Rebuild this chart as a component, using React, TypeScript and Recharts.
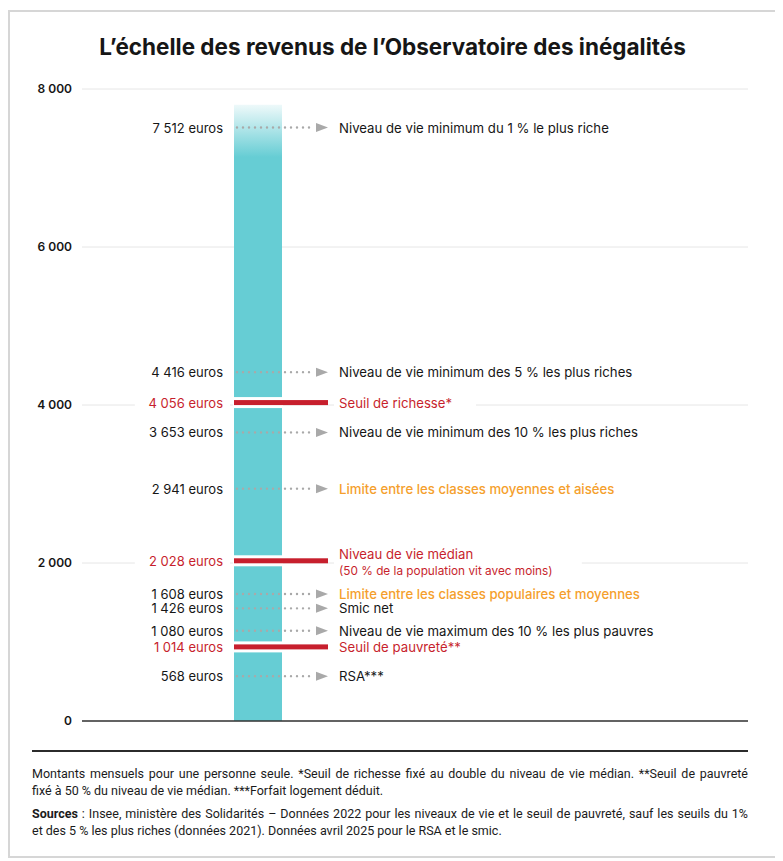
import { BarChart, Bar, XAxis, YAxis, CartesianGrid, ReferenceLine } from "recharts";

// ── data ─────────────────────────────────────────────────────────────────────

const scaleTop = 7800; // height of the teal ladder
const yTicks = [0, 2000, 4000, 6000, 8000];

const amounts = [7512, 4416, 4056, 3653, 2941, 2028, 1608, 1426, 1080, 1014, 568];
const captions = [
  "Niveau de vie minimum du 1 % le plus riche",
  "Niveau de vie minimum des 5 % les plus riches",
  "Seuil de richesse*",
  "Niveau de vie minimum des 10 % les plus riches",
  "Limite entre les classes moyennes et aisées",
  "Niveau de vie médian",
  "Limite entre les classes populaires et moyennes",
  "Smic net",
  "Niveau de vie maximum des 10 % les plus pauvres",
  "Seuil de pauvreté**",
  "RSA***",
];
const subCaptions = ["", "", "", "", "", "(50 % de la population vit avec moins)", "", "", "", "", ""];
const kinds = ["arrow", "arrow", "seuil", "arrow", "arrow", "seuil", "arrow", "arrow", "arrow", "seuil", "arrow"];
const tones = ["ink", "ink", "red", "ink", "orange", "red", "orange", "ink", "ink", "red", "ink"];

// small vertical nudges the original uses to keep close labels apart (px)
const nudges: Record<number, number> = { 4056: 2, 1080: -5, 1014: 6 };

// ── styles ───────────────────────────────────────────────────────────────────

const FONT = "Inter, 'Noto Sans', sans-serif";
const INK = "#161616";
const RED = "#c71f2d";
const ORANGE = "#f59f2d";
const TEAL = "#66cdd4";
const GREY = "#a9a9a9";
const BAR_W = 48;
const BAR_LEFT = 152; // bar left edge relative to plot left (band centre 176 - 24)

const toneColor = (t: string) => (t === "red" ? RED : t === "orange" ? ORANGE : INK);
const fmt = (v: number) => String(v).replace(/\B(?=(\d{3})+(?!\d))/g, " ");

const data = [{ name: "échelle", value: scaleTop }];

function Marker(props: any) {
  const { x1, y1, i } = props;
  if (x1 == null || y1 == null) return null;
  const y = y1 + (nudges[amounts[i]] ?? 0);
  const bx = x1 + BAR_LEFT;
  const seuil = kinds[i] === "seuil";
  const col = toneColor(tones[i]);
  const left = `${fmt(amounts[i])} euros`;
  const sub = subCaptions[i];
  const textX = bx + 105;
  const capY = sub ? y - 7 : y;
  const rightW = Math.max(captions[i].length * 7, sub.length * 6.1) + 16;
  const leftW = left.length * 7.2 + 10;

  return (
    <g>
      {seuil && (
        <>
          <rect x={bx - 10 - leftW} y={y - 9} width={leftW + 6} height={18} fill="#fff" />
          <rect x={textX - 5} y={y - 9} width={rightW} height={sub ? 30 : 18} fill="#fff" />
          <rect x={bx - 1} y={y - 5.5} width={BAR_W + 2} height={11} fill="#fff" />
          <rect x={bx} y={y - 2.5} width={94} height={5} fill={RED} />
        </>
      )}
      {!seuil && (
        <>
          <line
            x1={bx + 3}
            x2={bx + 81}
            y1={y}
            y2={y}
            stroke={GREY}
            strokeWidth={2.4}
            strokeLinecap="round"
            strokeDasharray="0 6"
          />
          <path d={`M${bx + 82},${y - 4.5} L${bx + 94},${y} L${bx + 82},${y + 4.5} Z`} fill={GREY} />
        </>
      )}
      <text
        x={bx - 11}
        y={y}
        textAnchor="end"
        dominantBaseline="central"
        fontFamily={FONT}
        fontSize={13}
        fill={seuil ? RED : INK}
      >
        {left}
      </text>
      <text
        x={textX}
        y={capY}
        dominantBaseline="central"
        fontFamily={FONT}
        fontSize={13.2}
        fontWeight={tones[i] === "orange" ? 500 : 400}
        fill={col}
      >
        {captions[i]}
      </text>
      {sub && (
        <text x={textX} y={y + 10} dominantBaseline="central" fontFamily={FONT} fontSize={11.8} fill={col}>
          {sub}
        </text>
      )}
    </g>
  );
}

export default function App() {
  return (
    <div style={{ paddingTop: 2 }}>
      <div
        style={{
          position: "relative",
          width: 765,
          height: 844,
          border: "2px solid #d6d6d6",
          fontFamily: FONT,
          color: INK,
          background: "#fff",
        }}
      >
        <div
          style={{
            position: "absolute",
            top: 21,
            left: 0,
            width: 765,
            textAlign: "center",
            fontSize: 22.5,
            fontWeight: 700,
            lineHeight: "27px",
          }}
        >
          L’échelle des revenus de l’Observatoire des inégalités
        </div>

        <div style={{ position: "absolute", top: 0, left: 0 }}>
          <BarChart width={765} height={720} data={data} margin={{ top: 77, right: 27, bottom: 11, left: 0 }}>
            <defs>
              <linearGradient id="ladder" x1="0" y1="0" x2="0" y2="1">
                <stop offset="0" stopColor="#eef9fa" />
                <stop offset="0.085" stopColor={TEAL} />
                <stop offset="1" stopColor={TEAL} />
              </linearGradient>
            </defs>
            <CartesianGrid vertical={false} stroke="#e6e6e6" strokeWidth={1} />
            <XAxis dataKey="name" hide padding={{ left: 0, right: 314 }} />
            <YAxis
              width={72}
              domain={[0, 8000]}
              ticks={yTicks}
              tickFormatter={fmt}
              tickLine={false}
              axisLine={false}
              tickMargin={4}
              tick={{ fontSize: 12, fill: INK, fontFamily: FONT, fontWeight: 600 }}
            />
            <Bar dataKey="value" fill="url(#ladder)" barSize={BAR_W} isAnimationActive={false} />
            <ReferenceLine y={0} stroke="#333" strokeWidth={1.5} />
            {amounts.map((a, i) => (
              <ReferenceLine key={a} y={a} shape={(p: any) => <Marker {...p} i={i} />} />
            ))}
          </BarChart>
        </div>

        <div style={{ position: "absolute", top: 738, left: 22, width: 716, borderTop: "2px solid #2b2b2b" }} />

        <div
          style={{
            position: "absolute",
            top: 753,
            left: 22,
            width: 716,
            fontFamily: "Roboto, sans-serif",
            fontSize: 12.5,
            lineHeight: "17px",
            color: "#1b1b1b",
          }}
        >
          <div style={{ textAlign: "justify", textAlignLast: "justify" }}>
            Montants mensuels pour une personne seule. *Seuil de richesse fixé au double du niveau de vie médian. **Seuil de pauvreté
          </div>
          <div>fixé à 50 % du niveau de vie médian. ***Forfait logement déduit.</div>
          <div style={{ marginTop: 6, textAlign: "justify", textAlignLast: "justify" }}>
            <b>Sources</b> : Insee, ministère des Solidarités – Données 2022 pour les niveaux de vie et le seuil de pauvreté, sauf les seuils du 1%
          </div>
          <div>et des 5 % les plus riches (données 2021). Données avril 2025 pour le RSA et le smic.</div>
        </div>
      </div>
    </div>
  );
}
